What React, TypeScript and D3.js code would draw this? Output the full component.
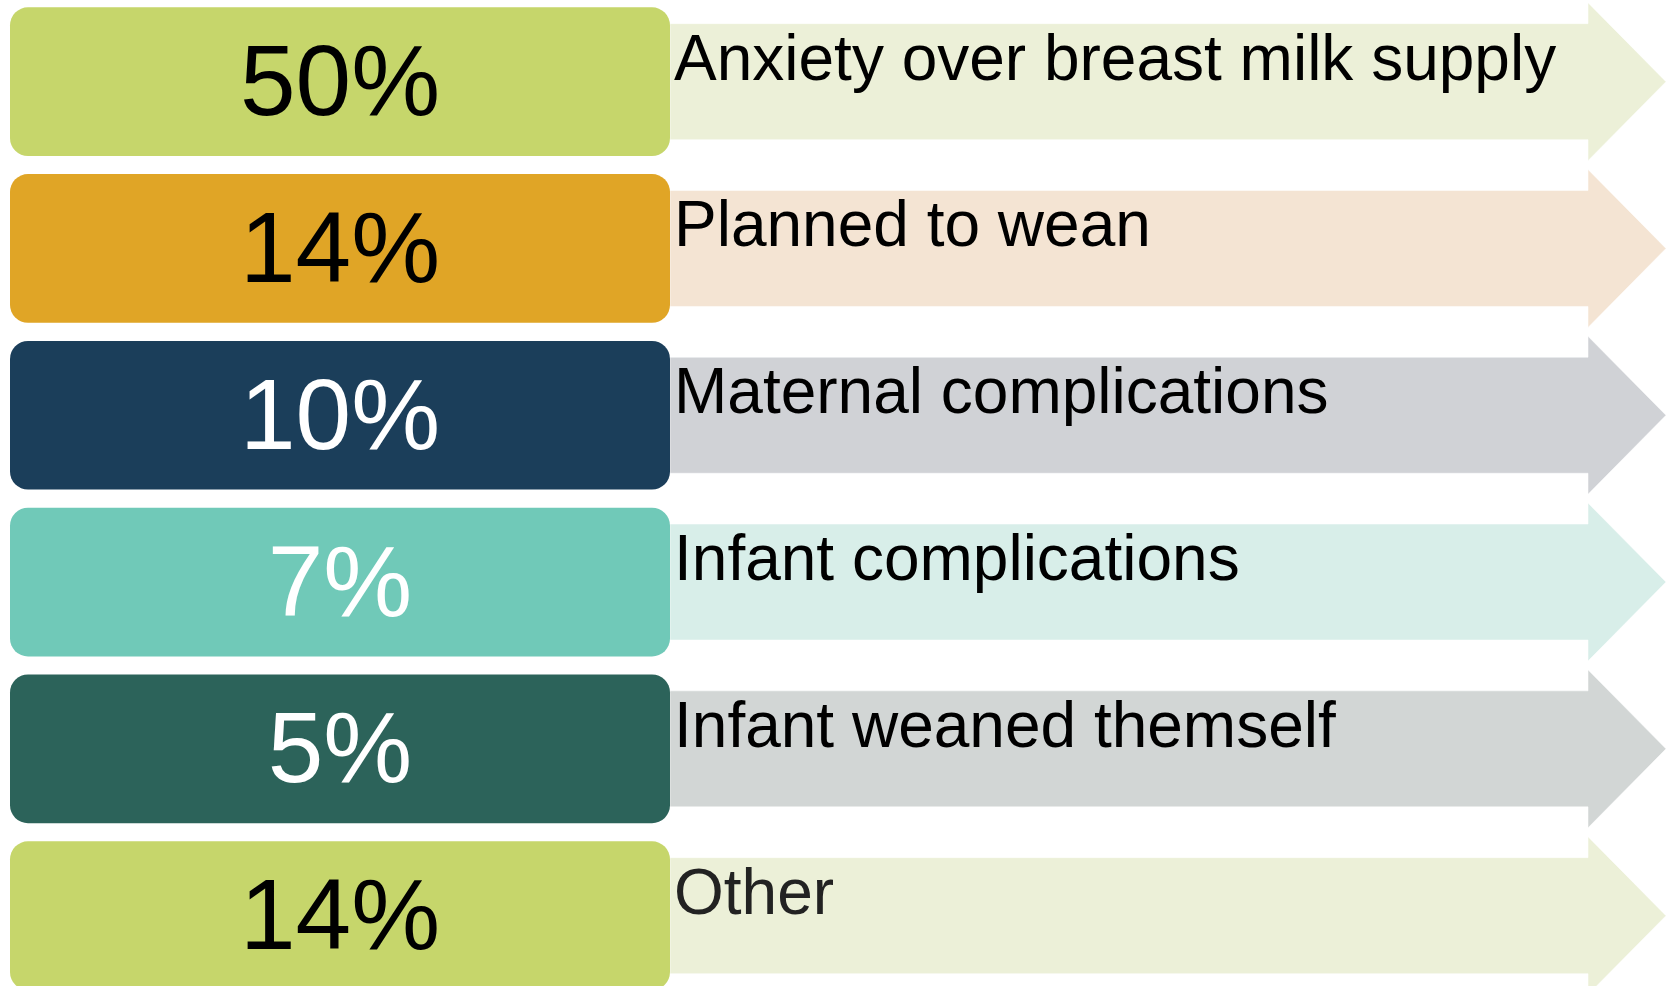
import React, { useEffect, useRef } from 'react';
import * as d3 from 'd3';

// reasons for stopping, share of respondents
const reasons = [
  'Anxiety over breast milk supply',
  'Planned to wean',
  'Maternal complications',
  'Infant complications',
  'Infant weaned themself',
  'Other',
];
const shares = [50, 14, 10, 7, 5, 14];
const boxColors = ['#c6d66b', '#e0a526', '#1b3e5a', '#70c9b8', '#2c635a', '#c6d66b'];
const arrowColors = ['#ecf0d8', '#f4e4d3', '#d0d2d6', '#d8eee9', '#d2d6d5', '#ecf0d8'];
const valueColors = ['#000', '#000', '#fff', '#fff', '#fff', '#000'];
const labelColors = ['#000', '#000', '#000', '#000', '#000', '#222'];

const width = 1675;
const height = 986;

export default function App() {
  const ref = useRef<SVGSVGElement>(null);

  useEffect(() => {
    const svg = d3.select(ref.current);
    svg.selectAll('*').remove();

    const y = d3
      .scaleBand<number>()
      .domain(d3.range(reasons.length))
      .range([7.3, 990])
      .paddingInner(0.1085)
      .paddingOuter(0);

    const boxLeft = 10;
    const boxRight = 670;
    const headBase = 1588;
    const tip = 1666;
    const bodyHalf = 58;
    const headHalf = 79;

    const rows = svg
      .append('g')
      .selectAll('g')
      .data(reasons)
      .join('g')
      .attr('transform', (d, i) => `translate(0,${y(i)! + y.bandwidth() / 2})`);

    // arrows behind the boxes
    rows
      .append('path')
      .attr('d', () => {
        const p = d3.path();
        p.moveTo(boxRight, -bodyHalf);
        p.lineTo(headBase, -bodyHalf);
        p.lineTo(headBase, -headHalf);
        p.lineTo(tip, 0);
        p.lineTo(headBase, headHalf);
        p.lineTo(headBase, bodyHalf);
        p.lineTo(boxRight, bodyHalf);
        p.closePath();
        return p.toString();
      })
      .attr('fill', (d, i) => arrowColors[i])
      .attr('stroke', '#fff')
      .attr('stroke-opacity', 0.5)
      .attr('stroke-width', 1);

    rows
      .append('rect')
      .attr('x', boxLeft)
      .attr('y', -y.bandwidth() / 2)
      .attr('width', boxRight - boxLeft)
      .attr('height', y.bandwidth())
      .attr('rx', 18)
      .attr('ry', 18)
      .attr('fill', (d, i) => boxColors[i]);

    rows
      .append('text')
      .attr('x', (boxLeft + boxRight) / 2)
      .attr('y', 33.5)
      .attr('text-anchor', 'middle')
      .attr('font-family', '"Liberation Sans", Arial, sans-serif')
      .attr('font-size', 100)
      .attr('fill', (d, i) => valueColors[i])
      .text((d, i) => `${shares[i]}%`);

    rows
      .append('text')
      .attr('x', 674)
      .attr('y', -2)
      .attr('font-family', '"Liberation Sans", Arial, sans-serif')
      .attr('font-size', 64)
      .attr('fill', (d, i) => labelColors[i])
      .text((d) => d);
  }, []);

  return (
    <svg
      ref={ref}
      width={width}
      height={height}
      style={{ position: 'absolute', left: 0, top: 0, background: '#fff' }}
    />
  );
}
